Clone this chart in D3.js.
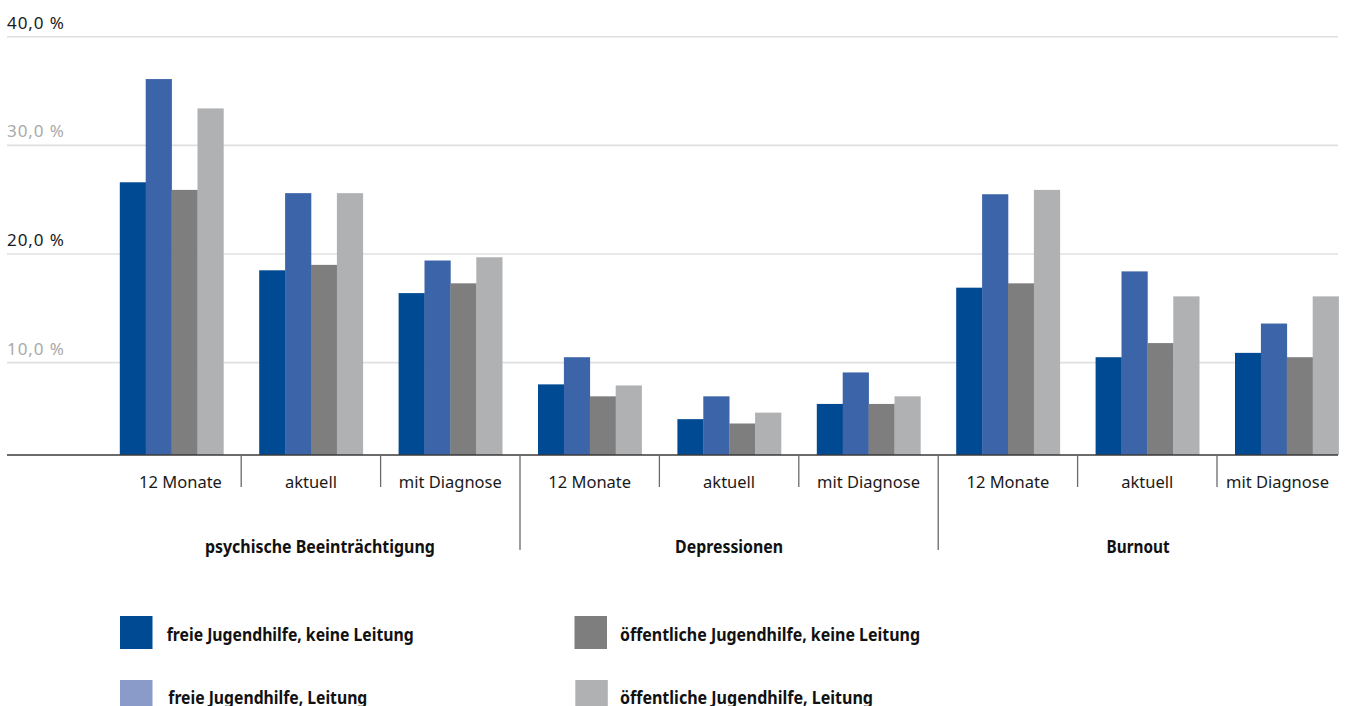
<!DOCTYPE html>
<html>
<head>
<meta charset="utf-8">
<script src="https://cdn.jsdelivr.net/npm/d3@7"></script>
<style>
  html, body { margin: 0; padding: 0; background: #fff; }
  svg { display: block; }
  text { font-family: "Noto Sans", "Open Sans", sans-serif; }
</style>
</head>
<body>
<svg id="chart" width="1345" height="706"></svg>
<script>
// Groups and their sub-categories along the x axis
const groups = ["psychische Beeinträchtigung", "Depressionen", "Burnout"];
const subcategories = ["12 Monate", "aktuell", "mit Diagnose"];

// Series (percent), one value per group × sub-category, in order
const seriesNames = [
  "freie Jugendhilfe, keine Leitung",
  "freie Jugendhilfe, Leitung",
  "öffentliche Jugendhilfe, keine Leitung",
  "öffentliche Jugendhilfe, Leitung"
];
const freieKeineLeitung        = [26.6, 18.5, 16.4, 8.0, 4.8, 6.2, 16.9, 10.5, 10.9];
const freieLeitung             = [36.1, 25.6, 19.4, 10.5, 6.9, 9.1, 25.5, 18.4, 13.6];
const oeffentlicheKeineLeitung = [25.9, 19.0, 17.3, 6.9, 4.4, 6.2, 17.3, 11.8, 10.5];
const oeffentlicheLeitung      = [33.4, 25.6, 19.7, 7.9, 5.4, 6.9, 25.9, 16.1, 16.1];

// Y axis ticks
const yTicks = [10, 20, 30, 40];

// ---- styling ----
const barColors    = ["#004a93", "#3c64a8", "#7e7e7e", "#b0b1b3"];
const legendColors = ["#004a93", "#8a9bc9", "#7e7e7e", "#b0b1b3"];
const tickColors   = ["#a9a9a9", "#1a1a1a", "#a9a9a9", "#1a1a1a"];

const series = [freieKeineLeitung, freieLeitung, oeffentlicheKeineLeitung, oeffentlicheLeitung];
const rows = [];
groups.forEach((g, gi) => subcategories.forEach((s, si) => rows.push({ group: g, gi, sub: s, key: gi * 3 + si })));

const svg = d3.select("#chart");

// ---- scales ----
const step = 139.4;
const bandStart = 101.8;
const plotLeft = 119.8, plotRight = 1338;
const baselineY = 455;

const x = d3.scaleBand()
  .domain(rows.map(r => r.key))
  .range([bandStart, bandStart + step * rows.length])
  .padding(0);

const xInner = d3.scaleBand()
  .domain(d3.range(series.length))
  .range([18, 18 + 103.6])
  .padding(0);

const y = d3.scaleLinear().domain([0, 40]).range([471.3, 36.7]);

const locale = d3.formatLocale({ decimal: ",", thousands: ".", grouping: [3], currency: ["", " €"] });
const fmt = locale.format(".1f");

// ---- gridlines and y labels ----
const grid = svg.append("g");
grid.selectAll("line")
  .data(yTicks)
  .join("line")
  .attr("x1", 7).attr("x2", plotRight)
  .attr("y1", d => y(d)).attr("y2", d => y(d))
  .attr("stroke", "#e0e0e0").attr("stroke-width", 1.6);

grid.selectAll("text")
  .data(yTicks)
  .join("text")
  .attr("x", 7)
  .attr("y", d => y(d) - 8)
  .attr("font-size", 17)
  .attr("fill", (d, i) => tickColors[i])
  .attr("textLength", 57)
  .attr("lengthAdjust", "spacing")
  .text(d => fmt(d) + " %");

// ---- bars ----
const barsG = svg.append("g");
series.forEach((vals, si) => {
  barsG.append("g")
    .attr("fill", barColors[si])
    .selectAll("rect")
    .data(rows)
    .join("rect")
    .attr("x", r => x(r.key) + xInner(si))
    .attr("width", xInner.bandwidth() + 0.3)
    .attr("y", r => y(vals[r.key]))
    .attr("height", r => baselineY - y(vals[r.key]));
});

// ---- baseline ----
svg.append("line")
  .attr("x1", 7).attr("x2", plotRight)
  .attr("y1", baselineY).attr("y2", baselineY)
  .attr("stroke", "#3a3a3a").attr("stroke-width", 1.6);

// ---- separators between categories ----
const sepG = svg.append("g").attr("stroke", "#6a6a6a").attr("stroke-width", 1.3);
rows.slice(1).forEach(r => {
  const long = r.key % 3 === 0;
  sepG.append("line")
    .attr("x1", x(r.key)).attr("x2", x(r.key))
    .attr("y1", baselineY).attr("y2", long ? 550 : 487);
});

// visible span of a band (first/last are trimmed by plot edges)
const visCenter = (a, b) => (Math.max(a, plotLeft) + Math.min(b, plotRight)) / 2;

// ---- sub-category labels ----
svg.append("g").selectAll("text")
  .data(rows)
  .join("text")
  .attr("x", r => visCenter(x(r.key), x(r.key) + x.bandwidth()))
  .attr("y", 488)
  .attr("text-anchor", "middle")
  .attr("font-size", 16.5)
  .attr("fill", "#1a1a1a")
  .text(r => r.sub);

// ---- group labels ----
const groupWidths = [230, 108, 63];
svg.append("g").selectAll("text")
  .data(groups)
  .join("text")
  .attr("x", (g, gi) => visCenter(x(gi * 3), x(gi * 3 + 2) + x.bandwidth()))
  .attr("y", 553)
  .attr("text-anchor", "middle")
  .attr("font-size", 17)
  .attr("font-weight", "bold")
  .attr("fill", "#111")
  .attr("textLength", (g, gi) => groupWidths[gi])
  .attr("lengthAdjust", "spacingAndGlyphs")
  .text(g => g);

// ---- legend ----
const legendPos = [
  { sx: 120, sy: 616, tx: 166.7, ty: 641, w: 247 },
  { sx: 120, sy: 680, tx: 168.3, ty: 703.5, w: 199 },
  { sx: 574.5, sy: 616, tx: 620, ty: 641, w: 300 },
  { sx: 575.3, sy: 680, tx: 620, ty: 703.5, w: 253 }
];
const legend = svg.append("g");
const items = legend.selectAll("g")
  .data(seriesNames)
  .join("g");
items.append("rect")
  .attr("x", (d, i) => legendPos[i].sx)
  .attr("y", (d, i) => legendPos[i].sy)
  .attr("width", 32.5).attr("height", 33)
  .attr("fill", (d, i) => legendColors[i]);
items.append("text")
  .attr("x", (d, i) => legendPos[i].tx)
  .attr("y", (d, i) => legendPos[i].ty)
  .attr("font-size", 18)
  .attr("font-weight", "bold")
  .attr("fill", "#111")
  .attr("textLength", (d, i) => legendPos[i].w)
  .attr("lengthAdjust", "spacingAndGlyphs")
  .text(d => d);
</script>
</body>
</html>
